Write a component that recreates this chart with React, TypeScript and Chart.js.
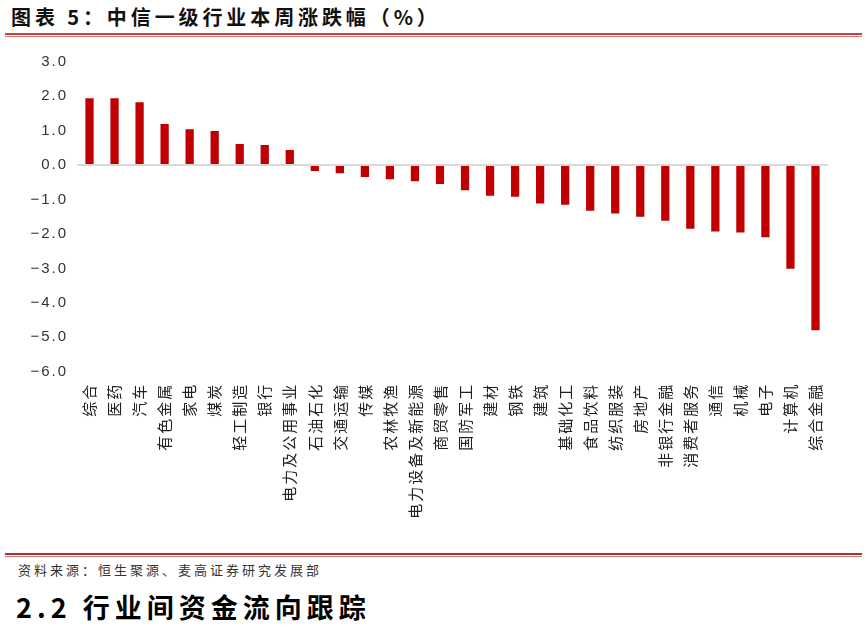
import React, { useEffect, useRef } from "react";
import { Chart, registerables } from "chart.js";

Chart.register(...registerables);

const categories = [
  "综合", "医药", "汽车", "有色金属", "家电", "煤炭", "轻工制造", "银行", "电力及公用事业", "石油石化",
  "交通运输", "传媒", "农林牧渔", "电力设备及新能源", "商贸零售", "国防军工", "建材", "钢铁", "建筑", "基础化工",
  "食品饮料", "纺织服装", "房地产", "非银行金融", "消费者服务", "通信", "机械", "电子", "计算机", "综合金融",
];

const weeklyChange = [
  1.94, 1.94, 1.82, 1.19, 1.04, 0.99, 0.61, 0.58, 0.44, -0.17,
  -0.24, -0.35, -0.41, -0.47, -0.55, -0.73, -0.89, -0.92, -1.12, -1.15,
  -1.33, -1.41, -1.5, -1.62, -1.85, -1.93, -1.96, -2.1, -3.01, -4.8,
];

const yMin = -6;
const yMax = 3;

const spacingPlugin = {
  id: "spacing",
  beforeDraw(chart: any) {
    (chart.ctx as any).letterSpacing = "2px";
  },
};

function BarChart() {
  const ref = useRef<HTMLCanvasElement>(null);
  useEffect(() => {
    if (!ref.current) return;
    const chart = new Chart(ref.current, {
      type: "bar",
      data: {
        labels: categories,
        datasets: [
          {
            data: weeklyChange,
            backgroundColor: "#c00000",
            borderWidth: 0,
            barPercentage: 0.33,
            categoryPercentage: 1,
          },
        ],
      },
      plugins: [spacingPlugin],
      options: {
        animation: false,
        responsive: false,
        maintainAspectRatio: false,
        layout: { padding: { top: 21.7, right: 39, left: 0, bottom: 0 } },
        plugins: { legend: { display: false }, tooltip: { enabled: false } },
        scales: {
          x: {
            grid: { display: false, drawTicks: false },
            border: { display: false },
            ticks: {
              autoSkip: false,
              maxRotation: 90,
              minRotation: 90,
              padding: 11,
              color: "#222",
              font: { family: "'Noto Sans CJK SC'", size: 15 },
            },
            afterFit(scale: any) {
              scale.height = 510 - 331.7;
            },
          },
          y: {
            min: yMin,
            max: yMax,
            grid: {
              drawTicks: false,
              color: (c: any) => (c.tick && c.tick.value === 0 ? "#d9d9d9" : "rgba(0,0,0,0)"),
              lineWidth: 2,
            },
            border: { display: false },
            ticks: {
              stepSize: 1,
              padding: 9,
              color: "#333",
              font: { family: "'Liberation Sans'", size: 15 },
              callback: (v: any) => {
                const n = Number(v);
                return n < 0 ? "\u2212" + Math.abs(n).toFixed(1) : n.toFixed(1);
              },
            },
            afterFit(scale: any) {
              scale.width = 77;
            },
          },
        },
      },
    });
    return () => chart.destroy();
  }, []);
  return <canvas ref={ref} width={867} height={510} style={{ width: 867, height: 510, display: "block" }} />;
}

export default function App() {
  const cjk = "'Noto Sans CJK SC', 'Noto Sans', sans-serif";
  return (
    <div style={{ position: "absolute", left: 0, top: 0, width: 867, height: 629, background: "#fff", overflow: "hidden" }}>
      <div
        style={{
          position: "absolute",
          left: 11,
          top: 5,
          fontFamily: cjk,
          fontWeight: 700,
          fontSize: 20,
          lineHeight: "24px",
          letterSpacing: "3.9px",
          color: "#111",
          whiteSpace: "nowrap",
        }}
      >
        图表 5：中信一级行业本周涨跌幅（%）
      </div>
      <div style={{ position: "absolute", left: 5, width: 857, top: 33, height: 2, background: "#c9403b" }} />
      <div style={{ position: "absolute", left: 5, width: 857, top: 36, height: 1, background: "#d77b77" }} />
      <div style={{ position: "absolute", left: 0, top: 40 }}>
        <BarChart />
      </div>
      <div style={{ position: "absolute", left: 5, width: 857, top: 553, height: 2, background: "#a8302e" }} />
      <div style={{ position: "absolute", left: 5, width: 857, top: 556, height: 1, background: "#c47a78" }} />
      <div
        style={{
          position: "absolute",
          left: 18,
          top: 561,
          fontFamily: cjk,
          fontSize: 13,
          lineHeight: "18px",
          letterSpacing: "3px",
          color: "#333",
          whiteSpace: "nowrap",
        }}
      >
        资料来源：恒生聚源、麦高证券研究发展部
      </div>
      <div
        style={{
          position: "absolute",
          left: 16,
          top: 590,
          fontFamily: cjk,
          fontWeight: 700,
          fontSize: 27,
          lineHeight: "34px",
          letterSpacing: "5px",
          color: "#000",
          whiteSpace: "nowrap",
        }}
      >
        2.2 行业间资金流向跟踪
      </div>
    </div>
  );
}
